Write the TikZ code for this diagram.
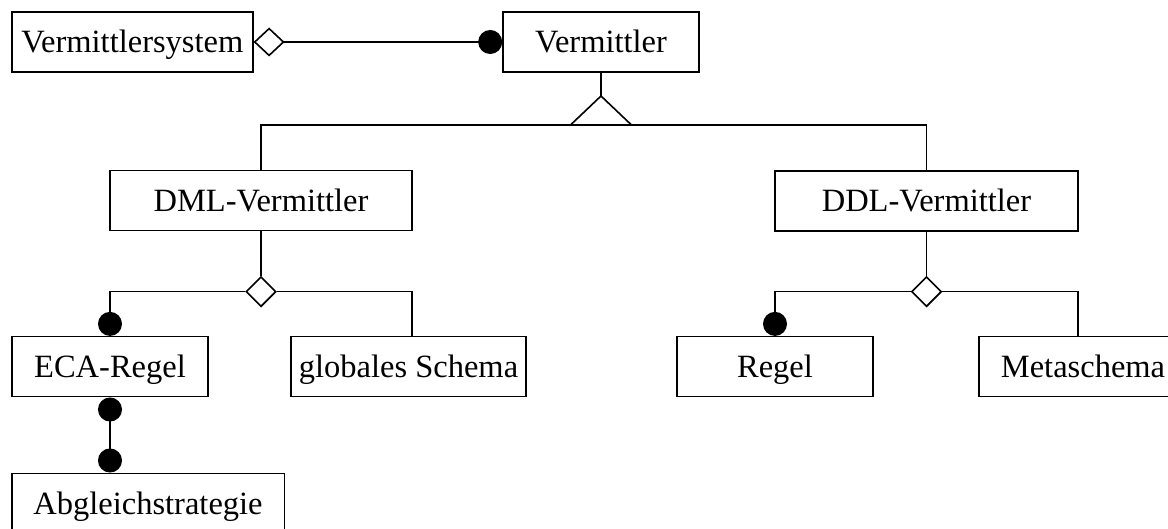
\documentclass[tikz,border=0pt]{standalone}
\usepackage{fontspec}
\setmainfont{Liberation Serif}
\usetikzlibrary{arrows.meta,shapes.geometric}
\begin{document}
\begin{tikzpicture}[x=1pt,y=-1pt,
  line width=1.6pt,
  cls/.style={draw, minimum height=60pt, inner sep=0pt, text height=21.5pt,
    text depth=0pt, font=\fontsize{32.5}{32.5}\selectfont},
  agg/.style={draw, fill=white, shape=diamond, minimum width=30pt,
    minimum height=30pt, inner sep=0pt},
  dot/.tip={Circle[length=24pt]},
  opendiamond/.tip={Diamond[open,length=31pt,width=29pt]}
]
\useasboundingbox (0,0) rectangle (1168,529);

% classes
\node[cls, minimum width=241pt]   (vs)    at (132.3,42)  {Vermittlersystem};
\node[cls, minimum width=196pt]   (vm)    at (601,42)    {Vermittler};
\node[cls, minimum width=302pt]   (dml)   at (261,200.7) {DML-Vermittler};
\node[cls, minimum width=303pt]   (ddl)   at (926.5,201) {DDL-Vermittler};
\node[cls, minimum width=196pt]   (eca)   at (110,366.7) {ECA-Regel};
\node[cls, minimum width=235pt]   (glob)  at (408.5,366.7) {globales Schema};
\node[cls, minimum width=196pt]   (regel) at (775,366.7) {Regel};
\node[cls, minimum width=208pt]   (meta)  at (1083,366.7) {Metaschema};
\node[cls, minimum width=272.6pt] (abg)   at (148,503.3) {Abgleichstrategie};

% aggregation diamonds
\node[agg] (dmlagg) at (261,291.7) {};
\node[agg] (ddlagg) at (926.5,291.7) {};

% generalization
\coordinate (gen) at (601,96);
\coordinate (genbase) at (601,125);
\draw (vm.south) -- (gen);
\draw[line join=miter] (gen) -- ++(-30.5,29) -- ++(61,0) -- cycle;
\draw (dml.north) |- (genbase) -| (ddl.north);

% associations
\draw[opendiamond-dot] (vs.east) -- (vm.west);

\draw (dml.south) -- (dmlagg.north);
\draw[-dot] (dmlagg.west) -| (eca.north);
\draw (dmlagg.east) -| ([xshift=3.5pt]glob.north);

\draw (ddl.south) -- (ddlagg.north);
\draw[-dot] (ddlagg.west) -| (regel.north);
\draw (ddlagg.east) -| ([xshift=-5pt]meta.north);

\draw[dot-dot] (eca.south) -- (eca.south |- abg.north);
\end{tikzpicture}
\end{document}
